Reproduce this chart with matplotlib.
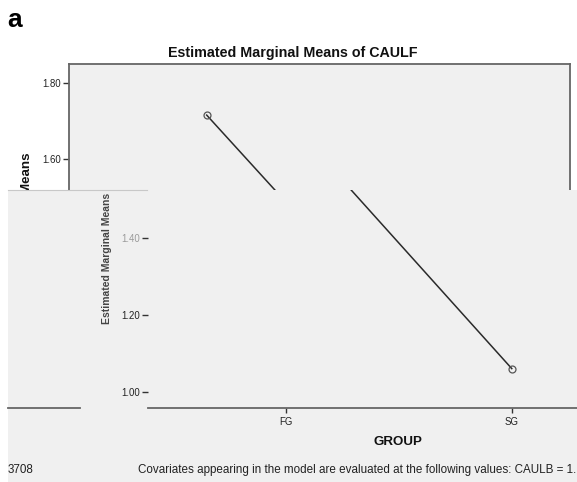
import matplotlib
matplotlib.use('Agg')
import matplotlib.pyplot as plt
from matplotlib.patches import Rectangle
from matplotlib.lines import Line2D

# data
groups = ['FG', 'SG']
means = [1.716, 1.06]
yticks = [1.00, 1.20, 1.40, 1.60, 1.80]
ytick_labels = ['1.00', '1.20', '1.40', '1.60', '1.80']

title = 'Estimated Marginal Means of CAULF'
ylabel = 'Estimated Marginal Means'
xlabel = 'GROUP'
note_left = '3708'
note_right = 'Covariates appearing in the model are evaluated at the following values: CAULB = 1.'

W, H = 577, 482
plt.rcParams['font.family'] = ['Liberation Sans', 'DejaVu Sans']

SPINE = '#666666'
TXT = '#222222'
BG = '#f0f0f0'


def fx(x):
    return x / W


def fy(y):
    return 1 - y / H


def draw_means(ax):
    x = list(range(len(groups)))
    ax.plot(x, means, color='#2a2a2a', lw=1.1, marker='o', mfc='none',
            mec='#555555', ms=5, mew=0.9)
    ax.set_xlim(-0.609, 1.607)
    ax.set_xticks(x, groups)
    ax.tick_params(axis='both', direction='out', color='#333333', labelcolor=TXT,
                   labelsize=6.9, width=1)
    ax.tick_params(axis='y', length=4.5, pad=1.5)
    ax.tick_params(axis='x', length=3.5, pad=3)


fig = plt.figure(figsize=(W / 100, H / 100), dpi=100)

# upper (intact) part of the chart
ax1 = fig.add_axes([fx(69), fy(408), (570 - 69) / W, (408 - 64) / H])
ax1.set_facecolor(BG)
draw_means(ax1)
ax1.set_ylim(0.942, 1.851)
ax1.set_yticks(yticks, ytick_labels)
for s in ax1.spines.values():
    s.set_color(SPINE)
    s.set_linewidth(1.3)

fig.text(fx(15), fy(27), 'a', fontsize=19, fontweight='bold', ha='center', va='baseline')
fig.text(fx(292.5), fy(57), title, fontsize=10.3, fontweight='bold',
         ha='center', va='baseline', color='#111111')
fig.text(fx(27.5), fy(236), ylabel, fontsize=9.6, fontweight='bold', rotation=90,
         ha='center', va='center', color='#111111', zorder=0.5)

# shifted lower panel
fig.add_artist(Rectangle((fx(8), 0), 1 - fx(8), fy(190), transform=fig.transFigure,
                         facecolor=BG, edgecolor='none', zorder=1.5))
fig.add_artist(Line2D([fx(8), fx(147)], [fy(190), fy(190)], transform=fig.transFigure,
                      color='#c8c8c8', lw=0.8, zorder=1.6))
fig.add_artist(Line2D([fx(8), fx(80)], [fy(407.7), fy(407.7)], transform=fig.transFigure,
                      color=SPINE, lw=1.3, zorder=1.6))

ax2 = fig.add_axes([fx(148), fy(407.7), (649 - 148) / W, (407.7 - 190) / H], zorder=2)
ax2.patch.set_visible(False)
draw_means(ax2)
ax2.set_ylim(0.958, 1.526)
ax2.set_yticks(yticks[:3], ytick_labels[:3])
ax2.get_yticklabels()[2].set_color('#9a9a9a')
for side in ['left', 'top', 'right']:
    ax2.spines[side].set_visible(False)
ax2.spines['bottom'].set_color(SPINE)
ax2.spines['bottom'].set_linewidth(1.3)

fig.text(fx(106.5), fy(258), ylabel, fontsize=7.5, fontweight='bold', rotation=90,
         ha='center', va='center', color='#444444')
fig.text(fx(398), fy(445), xlabel, fontsize=9.6, fontweight='bold',
         ha='center', va='baseline', color='#111111')
fig.text(fx(8), fy(473), note_left, fontsize=8.4, ha='left', va='baseline', color=TXT)
fig.text(fx(138), fy(473), note_right, fontsize=8.4, ha='left', va='baseline', color=TXT)

fig.savefig('out.png', dpi=100)
